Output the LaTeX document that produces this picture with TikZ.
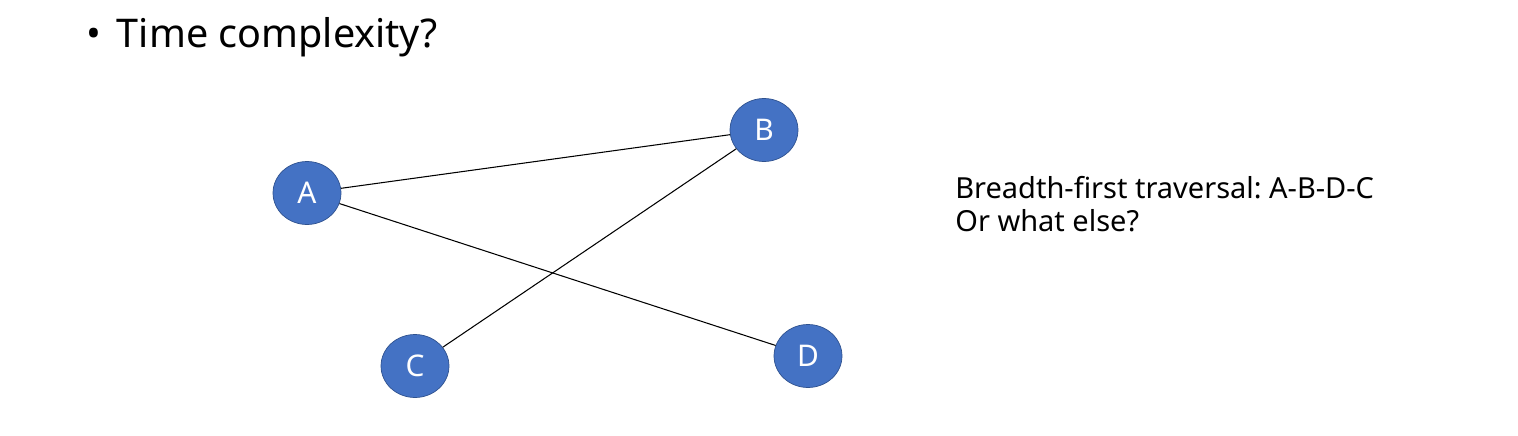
\documentclass[tikz,border=0pt]{standalone}
\usepackage{fontspec}
\setmainfont{Noto Sans}
\usetikzlibrary{shapes.geometric}
\definecolor{vfill}{HTML}{4472C4}
\definecolor{vline}{HTML}{2F528F}
\frenchspacing
\begin{document}
\begin{tikzpicture}[x=0.02cm,y=-0.02cm,
    vertex/.style={ellipse,draw=vline,fill=vfill,text=white,minimum width=1.36cm,minimum height=1.26cm,inner sep=0pt,font=\fontsize{17}{20}\selectfont},
    edge/.style={draw=black,line width=0.6pt},
    notetext/.style={anchor=base west,inner sep=0pt,font=\fontsize{16.5}{20}\selectfont}]
      \useasboundingbox (0,0) rectangle (1518,436);
      \node[anchor=base west,inner sep=0pt,font=\fontsize{22.5}{26}\selectfont] (title) at (86,47) {\textbullet\hspace{0.4em}Time complexity?};
      \node[vertex] (A) at (307,193) {A};
      \node[vertex] (B) at (764,130) {B};
      \node[vertex] (C) at (415,366) {C};
      \node[vertex] (D) at (808,356) {D};
      \draw[edge] (A) -- (B);
      \draw[edge] (A) -- (D);
      \draw[edge] (B) -- (C);
      \node[notetext] (note1) at (955,198) {Breadth-first traversal: A-B-D-C};
      \node[notetext] (note2) at (955,231) {Or what else?};
\end{tikzpicture}
\end{document}
